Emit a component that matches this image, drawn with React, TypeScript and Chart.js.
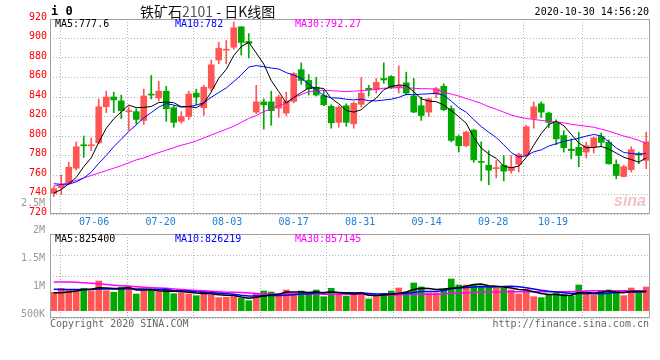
import React, { useEffect, useRef } from 'react';
import { Chart, registerables } from 'chart.js';
Chart.register(...registerables);

const dates = [
  '07-03','07-06','07-07','07-08','07-09','07-10','07-13','07-14','07-15','07-16','07-17',
  '07-20','07-21','07-22','07-23','07-24','07-27','07-28','07-29','07-30','07-31',
  '08-03','08-04','08-05','08-06','08-07','08-10','08-11','08-12','08-13','08-14',
  '08-17','08-18','08-19','08-20','08-21','08-24','08-25','08-26','08-27','08-28',
  '08-31','09-01','09-02','09-03','09-04','09-07','09-08','09-09','09-10','09-11',
  '09-14','09-15','09-16','09-17','09-18','09-21','09-22','09-23','09-24','09-25',
  '09-28','09-29','09-30','10-09','10-12','10-13','10-14','10-15','10-16',
  '10-19','10-20','10-21','10-22','10-23','10-26','10-27','10-28','10-29','10-30'];

const dateTickLabels = ['07-06','07-20','08-03','08-17','08-31','09-14','09-28','10-19'];

const opens = [
  741,747,752,767,791,790,793,830,840,836,
  825,825,816,842.5,839,846,829,815,820,844,
  829,849,878,888,891,912,897,824.5,835,835,
  828.5,823.5,835.5,868,857,850,841.5,830.5,814,831,
  812.5,832.5,849,847.5,859,861,850,854.5,841,831,
  824.5,843,851,828,799.5,790,806,774,770,766.5,
  770,764.5,771,780,818,833,823.5,813,800.5,786.5,
  788.5,783.5,789,799.5,793.5,771,758.5,765.5,782,775];
const highs = [
  748,760,773,794,800,798,838,846,845,842,
  830,828,848,862,856,851,831,825,846,848,
  852,878,896,898,917,912,905,852,838,846,
  842,845,865,875,863,860,847,832,831,833,
  835,860,852,859,875,862,872,865.5,859,840,
  839,850,853.5,831,801,805,807,794,785,775,
  780,780,782.5,811,835,835,824.5,816.5,805.5,797,
  804,793.5,799,803,796,775.5,770,789,783.5,804];
const lows = [
  738,740,751,765,778,785,792,824,824,818,
  806,812,812,838,836,815,809,813,817,832,
  821,846,874,874,889,883,880,823,807,811,
  819,821,834,853,842,841,831,808,809,810,
  808,829.5,841,844,854,848.5,844,842,824,816,
  820,839,826,794,783.5,789,773,754,750,757,
  754,762,763,779,808,819,808.5,791,783.5,776.5,
  768.5,777.5,782.5,789,771,756,758,763,771.5,766.5];
const closes = [
  746,750,768,789,790,791,830,840,837,826,
  825.5,817,841,842,846,828,814,820,843,840,
  850,873,890,888.5,911,896,895,835,832,826,
  840,836,864,857,848.5,842,832,813.5,829.5,814,
  833.5,844,847.5,855,857.5,850,851.5,844,824.5,821,
  838,848.5,827,795.5,790,804,775.5,773,765,767.5,
  764,768,781,809.5,830,824.5,814,797,788,785,
  780,790,798,793.5,771.5,759.5,768.5,786,780.5,794];

const ma5 = [
  741.5,745,751,757.5,768.6,777.6,793.6,808,817.6,824.8,
  831.7,829.1,829.3,830.3,834.3,834.8,834.2,830,830.2,829,
  833.4,845.2,859.2,868.3,882.5,891.7,896.1,885.1,873.8,856.8,
  845.6,833.8,839.6,844.6,849.1,849.5,848.7,838.6,833.1,826.2,
  824.5,826.9,833.7,838.8,847.5,850.8,852.3,851.6,845.5,838.2,
  835.8,835.2,831.8,826,819.8,813,798.4,787.6,781.5,777,
  769,767.5,769.1,778,790.5,802.6,811.8,815,810.7,801.7,
  792.8,788,788.2,789.3,786.6,782.5,778.2,775.8,773.2,777.6];
const ma10 = [
  751,750.5,750.5,753,757,763,772,780,789,796.7,
  804.7,811.4,818.7,824,829.6,833.3,831.7,829.7,830.3,831.7,
  834.1,839.7,844.6,849.3,855.8,862.6,870.7,872.2,871.1,869.7,
  868.7,865,862.4,859.2,853,847.6,841.3,839.1,838.9,837.7,
  837,837.8,836.2,836,836.9,837.7,839.6,842.7,842.2,842.9,
  843.3,843.8,841.7,835.8,829,824.4,816.8,809.7,803.8,798.4,
  791,783,778.4,779.8,783.8,785.8,789.7,792.1,794.4,796.1,
  797.7,799.9,801.6,800,794.2,787.7,783.1,782,781.3,782];
const ma30 = [
  748.5,750,752,754.5,757,759.5,762,764.5,767,769.5,
  772.5,775.5,777.5,780.5,783,785.5,788,790.5,792.5,795,
  798,801,804,807,810,814,818,821,825,828,
  831,834,839,842.5,845.5,846.5,847,846.5,846,845.5,
  846,846.5,847,848,849,849.5,849.5,849.5,849,848.5,
  848.5,848,845,843,841,838.5,836,833.5,830,827.5,
  824.5,821.5,819.5,818,817,816,815,814.5,813.5,812,
  811,810,809,807,805,802.5,800,798,795.5,792.27];

const volumes = [
  789000,960000,887000,917000,960000,857000,1273000,857000,789000,1003000,
  1059000,716000,857000,844000,814000,930000,729000,771000,716000,643000,
  844000,673000,557000,574000,600000,531000,429000,746000,844000,801000,
  703000,887000,746000,844000,716000,887000,600000,960000,703000,630000,
  703000,789000,501000,630000,746000,844000,973000,801000,1187000,1016000,
  759000,759000,930000,1359000,1101000,1101000,1101000,1059000,1003000,960000,
  960000,887000,716000,917000,600000,557000,673000,746000,703000,630000,
  1101000,703000,660000,844000,887000,844000,643000,973000,771000,1016000];
const volMa5 = [
  771000,771000,800000,844000,903000,916000,979000,973000,947000,956000,
  996000,885000,885000,896000,858000,832000,835000,818000,792000,758000,
  741000,729000,687000,658000,650000,587000,538000,576000,630000,670000,
  705000,796000,796000,796000,779000,816000,759000,801000,773000,756000,
  719000,757000,665000,651000,674000,702000,739000,799000,910000,964000,
  947000,904000,930000,965000,982000,1050000,1118000,1144000,1073000,1045000,
  1017000,974000,905000,888000,816000,735000,693000,699000,656000,662000,
  771000,777000,759000,788000,839000,788000,776000,838000,824000,825400];
const volMa10 = [
  917000,910000,905000,905000,910000,920000,930000,930000,930000,929000,
  956000,932000,929000,922000,907000,914000,860000,851000,844000,808000,
  786000,782000,752000,725000,704000,664000,634000,631000,644000,660000,
  646000,667000,686000,713000,725000,760000,777000,799000,785000,768000,
  768000,758000,733000,712000,715000,711000,748000,732000,780000,819000,
  825000,822000,865000,937000,973000,999000,1011000,1037000,1019000,1013000,
  1033000,1046000,1025000,981000,930000,876000,833000,802000,772000,739000,
  753000,735000,729000,722000,750000,779000,776000,799000,806000,826219];
const volMa30 = [
  1230000,1230000,1230000,1215000,1195000,1175000,1150000,1120000,1090000,1065000,
  1045000,1025000,1005000,985000,970000,960000,935000,910000,885000,865000,
  850000,830000,810000,795000,789000,780000,760000,740000,725000,716000,
  716000,716000,716000,716000,716000,716000,710000,705000,703000,703000,
  700000,700000,680000,660000,650000,660000,680000,700000,703000,703000,
  703000,703000,720000,750000,771000,771000,775000,790000,800000,805000,
  810000,814000,814000,814000,814000,814000,814000,814000,814000,814000,
  830000,840000,850000,857000,857000,857000,857000,857000,857000,857145];

const volTickValues = [0.5, 1, 1.5, 2, 2.5];
const volTickLabels = ['500K', '1M', '1.5M', '2M', '2.5M'];

const RED = '#ff5555';
const GREEN = '#00a800';
const GRID = '#b4b4b4';
const FRAME = '#a0a0a0';
const MONO = '"DejaVu Sans Mono", monospace';

const candleColors = opens.map((o, i) => (closes[i] >= o ? RED : GREEN));

const framePlugin = {
  id: 'frame',
  afterDraw(chart: any) {
    const { ctx, chartArea } = chart;
    const l = Math.round(chartArea.left), t = Math.round(chartArea.top);
    const r = Math.round(chartArea.right), b = Math.round(chartArea.bottom);
    ctx.save();
    ctx.strokeStyle = FRAME;
    ctx.lineWidth = 1;
    ctx.strokeRect(l + 0.5, t + 0.5, r - l - 1, b - t - 1);
    ctx.restore();
  },
};

const dateAxis = (showLabels: boolean) => ({
  type: 'linear',
  position: 'bottom',
  min: 0,
  max: 78.95,
  afterBuildTicks: (axis: any) => {
    axis.ticks = dateTickLabels.map((d) => ({ value: dates.indexOf(d) }));
  },
  afterFit: (axis: any) => {
    axis.height = showLabels ? 20 : 0;
  },
  ticks: {
    display: showLabels,
    autoSkip: false,
    maxRotation: 0,
    padding: 2,
    color: '#1a7fd6',
    font: { family: MONO, size: 10 },
    callback: (v: any) => dates[v],
  },
  grid: { color: GRID, lineWidth: 1, drawTicks: false },
  border: { display: false, dash: [1, 2] },
});

const line = (label: string, data: number[], color: string, yAxisID: string, width = 1) => ({
  type: 'line',
  label,
  data,
  borderColor: color,
  backgroundColor: color,
  borderWidth: width,
  pointRadius: 0,
  tension: 0,
  xAxisID: 'x',
  yAxisID,
  order: 0,
});

function Txt(props: { x: number; y: number; color?: string; size?: number; bold?: boolean; right?: boolean; family?: string; children: any }) {
  const { x, y, color = '#000', size = 10, bold = false, right = false, family = MONO, children } = props;
  const style: any = {
    position: 'absolute',
    top: y - 7,
    lineHeight: '14px',
    height: 14,
    fontSize: size,
    fontFamily: family,
    fontWeight: bold ? 'bold' : 'normal',
    color,
    whiteSpace: 'nowrap',
  };
  if (right) style.right = 660 - x; else style.left = x;
  return <div style={style}>{children}</div>;
}

export default function App() {
  const mainRef = useRef<HTMLCanvasElement>(null);
  const volRef = useRef<HTMLCanvasElement>(null);

  useEffect(() => {
    const main = new Chart(mainRef.current as HTMLCanvasElement, {
      type: 'bar',
      data: {
        labels: dates,
        datasets: [
          line('MA5', ma5, '#000000', 'y'),
          line('MA10', ma10, '#0000ff', 'y'),
          line('MA30', ma30, '#ff00ff', 'y'),
          {
            type: 'bar',
            label: 'body',
            data: opens.map((o, i) => [o, closes[i]]),
            backgroundColor: candleColors,
            barThickness: 6,
            grouped: false,
            minBarLength: 1,
            xAxisID: 'x',
            yAxisID: 'y',
            order: 1,
          },
          {
            type: 'bar',
            label: 'wick',
            data: lows.map((l, i) => [l, highs[i]]),
            backgroundColor: candleColors,
            barThickness: 1,
            grouped: false,
            xAxisID: 'x',
            yAxisID: 'y',
            order: 2,
          },
        ] as any,
      },
      options: {
        responsive: false,
        animation: false,
        layout: { padding: { top: 19, right: 10, left: 0, bottom: 0 } },
        plugins: { legend: { display: false }, tooltip: { enabled: false } },
        scales: {
          x: { type: 'category', display: false, offset: true },
          xd: dateAxis(true) as any,
          y: {
            min: 720,
            max: 920,
            position: 'left',
            afterFit: (axis: any) => { axis.width = 50; },
            ticks: { stepSize: 20, color: '#ff0000', padding: 3, labelOffset: -2, font: { family: MONO, size: 10 } },
            grid: { color: GRID, lineWidth: 1, drawTicks: false },
            border: { display: false, dash: [1, 2] },
          },
        },
      } as any,
      plugins: [framePlugin],
    });

    const vol = new Chart(volRef.current as HTMLCanvasElement, {
      type: 'bar',
      data: {
        labels: dates,
        datasets: [
          line('VMA5', volMa5, '#000000', 'yv', 1.5),
          line('VMA10', volMa10, '#0000ff', 'yv', 1.5),
          line('VMA30', volMa30, '#ff00ff', 'yv', 1.5),
          {
            type: 'bar',
            label: 'volume',
            data: volumes,
            backgroundColor: candleColors,
            barThickness: 6,
            xAxisID: 'x',
            yAxisID: 'yv',
            order: 1,
          },
        ] as any,
      },
      options: {
        responsive: false,
        animation: false,
        layout: { padding: { top: 44, right: 10, left: 0, bottom: 42 } },
        plugins: { legend: { display: false }, tooltip: { enabled: false } },
        scales: {
          x: { type: 'category', display: false, offset: true },
          xd: dateAxis(false) as any,
          yv: {
            type: 'linear',
            position: 'left',
            min: -313000,
            max: 3287000,
            afterFit: (axis: any) => { axis.width = 0; },
            ticks: { count: 5, display: false },
            grid: { color: GRID, lineWidth: 1, drawTicks: false },
            border: { display: false, dash: [1, 2] },
          },
          yl: {
            type: 'linear',
            position: 'left',
            min: 0.4315,
            max: 1.944,
            afterFit: (axis: any) => { axis.width = 50; },
            afterBuildTicks: (axis: any) => {
              axis.ticks = volTickValues.map((v) => ({ value: v }));
            },
            ticks: {
              autoSkip: false,
              color: '#999999',
              padding: 5,
              font: { family: MONO, size: 10 },
              callback: (v: any) => volTickLabels[volTickValues.indexOf(v)],
            },
            grid: { display: false, drawTicks: false },
            border: { display: false },
          },
        },
      } as any,
      plugins: [framePlugin],
    });

    return () => {
      main.destroy();
      vol.destroy();
    };
  }, []);

  return (
    <div style={{ position: 'fixed', left: 0, top: 0, width: 660, height: 360, background: '#fff', overflow: 'hidden' }}>
      <canvas ref={mainRef} width={660} height={234} style={{ position: 'absolute', left: 0, top: 0, width: 660, height: 234 }} />
      <canvas ref={volRef} width={660} height={170} style={{ position: 'absolute', left: 0, top: 190, width: 660, height: 170 }} />
      <Txt x={51} y={11} size={12} bold>i 0</Txt>
      <div style={{ position: 'absolute', left: 140, top: 2, fontSize: 14, lineHeight: '18px', fontFamily: '"Noto Sans CJK SC", sans-serif', color: '#111', whiteSpace: 'nowrap' }}>
        铁矿石<span style={{ color: '#555' }}>2101</span> - 日K线图
      </div>
      <Txt x={649} y={12} right>2020-10-30 14:56:20</Txt>
      <Txt x={55} y={24}>MA5:777.6</Txt>
      <Txt x={175} y={24} color="#0000ff">MA10:782</Txt>
      <Txt x={295} y={24} color="#ff00ff">MA30:792.27</Txt>
      <Txt x={55} y={239}>MA5:825400</Txt>
      <Txt x={175} y={239} color="#0000ff">MA10:826219</Txt>
      <Txt x={295} y={239} color="#ff00ff">MA30:857145</Txt>
      <Txt x={50} y={324} color="#666">Copyright 2020 SINA.COM</Txt>
      <Txt x={649} y={324} color="#666" right>http://finance.sina.com.cn</Txt>
      <div style={{ position: 'absolute', left: 614, top: 192, fontSize: 16, fontStyle: 'italic', fontWeight: 'bold', fontFamily: 'Arial, "Liberation Sans", sans-serif', color: '#f0c4c4', lineHeight: '18px' }}>sina</div>
    </div>
  );
}
